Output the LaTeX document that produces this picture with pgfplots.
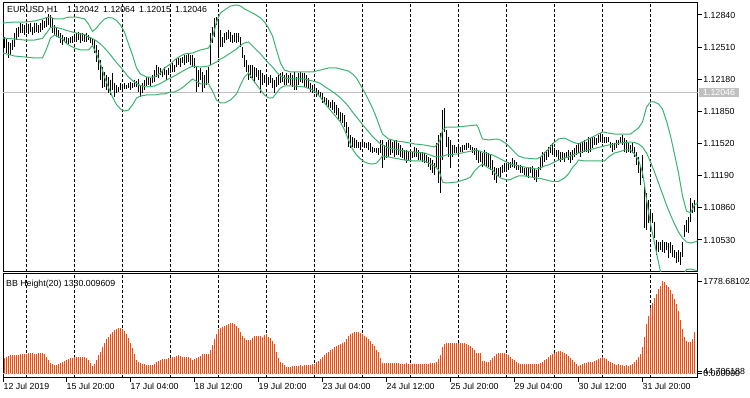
\documentclass[border=0pt]{standalone}
\usepackage{pgfplots}
\pgfplotsset{compat=1.18}
\usepackage{pgfplotstable}
\usepackage{fontspec}
\setmainfont{Liberation Sans}
\definecolor{bandgreen}{RGB}{60,179,113}
\definecolor{histred}{RGB}{255,69,0}
\definecolor{bidgray}{RGB}{192,192,192}
\newcommand{\lblfont}{\fontsize{8.8}{10}\selectfont}

\pgfplotstableread{
i h l
0 1.12614 1.12501
1 1.12604 1.12450
2 1.12563 1.12399
3 1.12553 1.12429
4 1.12583 1.12481
5 1.12655 1.12511
6 1.12707 1.12583
7 1.12717 1.12614
8 1.12758 1.12655
9 1.12748 1.12655
10 1.12737 1.12635
11 1.12758 1.12655
12 1.12748 1.12645
13 1.12758 1.12665
14 1.12717 1.12635
15 1.12758 1.12655
16 1.12758 1.12665
17 1.12737 1.12655
18 1.12758 1.12665
19 1.12789 1.12686
20 1.12778 1.12707
21 1.12819 1.12717
22 1.12850 1.12737
23 1.12840 1.12717
24 1.12809 1.12655
25 1.12737 1.12635
26 1.12707 1.12614
27 1.12686 1.12604
28 1.12655 1.12553
29 1.12635 1.12532
30 1.12614 1.12563
31 1.12614 1.12553
32 1.12604 1.12532
33 1.12614 1.12553
34 1.12624 1.12553
35 1.12635 1.12583
36 1.12655 1.12563
37 1.12665 1.12583
38 1.12655 1.12553
39 1.12655 1.12573
40 1.12635 1.12563
41 1.12655 1.12563
42 1.12635 1.12583
43 1.12614 1.12553
44 1.12604 1.12511
45 1.12583 1.12450
46 1.12532 1.12357
47 1.12481 1.12275
48 1.12378 1.12173
49 1.12306 1.12091
50 1.12255 1.12101
51 1.12224 1.12070
52 1.12203 1.12039
53 1.12173 1.12019
54 1.12245 1.12070
55 1.12142 1.11998
56 1.12121 1.12039
57 1.12101 1.12049
58 1.12142 1.12070
59 1.12121 1.12070
60 1.12142 1.12080
61 1.12121 1.12080
62 1.12142 1.12091
63 1.12152 1.12070
64 1.12142 1.12091
65 1.12173 1.12101
66 1.12162 1.12101
67 1.12183 1.12049
68 1.12121 1.11998
69 1.12142 1.12039
70 1.12173 1.12070
71 1.12203 1.12111
72 1.12203 1.12121
73 1.12193 1.12101
74 1.12224 1.12142
75 1.12275 1.12152
76 1.12327 1.12203
77 1.12306 1.12193
78 1.12296 1.12224
79 1.12275 1.12203
80 1.12306 1.12224
81 1.12275 1.12173
82 1.12296 1.12224
83 1.12306 1.12245
84 1.12347 1.12255
85 1.12327 1.12255
86 1.12399 1.12306
87 1.12409 1.12327
88 1.12399 1.12306
89 1.12409 1.12347
90 1.12429 1.12327
91 1.12429 1.12347
92 1.12450 1.12357
93 1.12429 1.12327
94 1.12429 1.12306
95 1.12399 1.12296
96 1.12306 1.12049
97 1.12275 1.12101
98 1.12296 1.12173
99 1.12255 1.12049
100 1.12224 1.12091
101 1.12275 1.12121
102 1.12306 1.12142
103 1.12655 1.12327
104 1.12717 1.12553
105 1.12809 1.12614
106 1.12819 1.12737
107 1.12789 1.12399
108 1.12686 1.12511
109 1.12614 1.12511
110 1.12655 1.12553
111 1.12665 1.12583
112 1.12686 1.12594
113 1.12665 1.12563
114 1.12635 1.12553
115 1.12655 1.12563
116 1.12655 1.12553
117 1.12655 1.12563
118 1.12614 1.12511
119 1.12511 1.12399
120 1.12429 1.12306
121 1.12378 1.12255
122 1.12327 1.12173
123 1.12327 1.12193
124 1.12327 1.12193
125 1.12306 1.12142
126 1.12296 1.12203
127 1.12275 1.12173
128 1.12275 1.12039
129 1.12245 1.12121
130 1.12224 1.12142
131 1.12203 1.12101
132 1.12203 1.12121
133 1.12224 1.12142
134 1.12193 1.12091
135 1.12173 1.12039
136 1.12203 1.12101
137 1.12224 1.12121
138 1.12245 1.12142
139 1.12255 1.12152
140 1.12224 1.12121
141 1.12245 1.12121
142 1.12224 1.12142
143 1.12245 1.12121
144 1.12224 1.12101
145 1.12255 1.12070
146 1.12203 1.12070
147 1.12245 1.12121
148 1.12255 1.12152
149 1.12245 1.12142
150 1.12245 1.12101
151 1.12224 1.12101
152 1.12193 1.12091
153 1.12142 1.12049
154 1.12121 1.12039
155 1.12101 1.12039
156 1.12091 1.11998
157 1.12070 1.12019
158 1.12049 1.11988
159 1.12039 1.11937
160 1.11998 1.11947
161 1.11988 1.11916
162 1.11967 1.11895
163 1.11947 1.11885
164 1.11967 1.11865
165 1.11947 1.11834
166 1.11916 1.11813
167 1.11885 1.11762
168 1.11844 1.11741
169 1.11834 1.11731
170 1.11813 1.11690
171 1.11741 1.11628
172 1.11690 1.11485
173 1.11608 1.11474
174 1.11587 1.11485
175 1.11577 1.11474
176 1.11557 1.11474
177 1.11536 1.11474
178 1.11536 1.11454
179 1.11557 1.11485
180 1.11536 1.11474
181 1.11526 1.11474
182 1.11536 1.11454
183 1.11526 1.11433
184 1.11485 1.11423
185 1.11474 1.11433
186 1.11474 1.11423
187 1.11474 1.11403
188 1.11557 1.11423
189 1.11557 1.11269
190 1.11505 1.11351
191 1.11536 1.11372
192 1.11557 1.11382
193 1.11557 1.11403
194 1.11536 1.11423
195 1.11557 1.11382
196 1.11557 1.11403
197 1.11526 1.11403
198 1.11505 1.11382
199 1.11474 1.11372
200 1.11454 1.11351
201 1.11454 1.11320
202 1.11433 1.11351
203 1.11454 1.11351
204 1.11433 1.11372
205 1.11485 1.11382
206 1.11474 1.11382
207 1.11454 1.11351
208 1.11433 1.11351
209 1.11433 1.11331
210 1.11423 1.11320
211 1.11403 1.11320
212 1.11382 1.11279
213 1.11372 1.11249
214 1.11351 1.11218
215 1.11320 1.11197
216 1.11526 1.11279
217 1.11608 1.11115
218 1.11628 1.11012
219 1.11865 1.11351
220 1.11885 1.11639
221 1.11659 1.11485
222 1.11587 1.11382
223 1.11557 1.11269
224 1.11505 1.11382
225 1.11505 1.11423
226 1.11485 1.11423
227 1.11485 1.11423
228 1.11485 1.11433
229 1.11505 1.11433
230 1.11505 1.11454
231 1.11526 1.11454
232 1.11526 1.11474
233 1.11505 1.11454
234 1.11485 1.11423
235 1.11474 1.11403
236 1.11474 1.11351
237 1.11454 1.11320
238 1.11433 1.11331
239 1.11423 1.11279
240 1.11454 1.11300
241 1.11433 1.11279
242 1.11423 1.11279
243 1.11403 1.11249
244 1.11351 1.11197
245 1.11279 1.11146
246 1.11269 1.11115
247 1.11269 1.11177
248 1.11279 1.11177
249 1.11300 1.11218
250 1.11320 1.11228
251 1.11320 1.11228
252 1.11331 1.11249
253 1.11331 1.11269
254 1.11372 1.11279
255 1.11351 1.11269
256 1.11331 1.11249
257 1.11300 1.11249
258 1.11300 1.11218
259 1.11279 1.11218
260 1.11269 1.11197
261 1.11269 1.11177
262 1.11279 1.11166
263 1.11279 1.11218
264 1.11290 1.11166
265 1.11269 1.11146
266 1.11249 1.11125
267 1.11279 1.11177
268 1.11382 1.11249
269 1.11433 1.11279
270 1.11433 1.11331
271 1.11454 1.11351
272 1.11485 1.11382
273 1.11505 1.11423
274 1.11526 1.11403
275 1.11474 1.11382
276 1.11454 1.11382
277 1.11454 1.11351
278 1.11433 1.11331
279 1.11433 1.11351
280 1.11423 1.11331
281 1.11433 1.11372
282 1.11454 1.11351
283 1.11433 1.11320
284 1.11454 1.11351
285 1.11474 1.11382
286 1.11505 1.11403
287 1.11526 1.11423
288 1.11526 1.11382
289 1.11536 1.11423
290 1.11557 1.11433
291 1.11536 1.11433
292 1.11587 1.11423
293 1.11577 1.11433
294 1.11587 1.11474
295 1.11587 1.11505
296 1.11577 1.11505
297 1.11608 1.11526
298 1.11628 1.11536
299 1.11608 1.11526
300 1.11587 1.11526
301 1.11587 1.11526
302 1.11587 1.11536
303 1.11536 1.11474
304 1.11526 1.11433
305 1.11526 1.11454
306 1.11557 1.11474
307 1.11557 1.11505
308 1.11587 1.11526
309 1.11608 1.11505
310 1.11577 1.11433
311 1.11557 1.11423
312 1.11526 1.11433
313 1.11505 1.11423
314 1.11526 1.11423
315 1.11485 1.11382
316 1.11433 1.11300
317 1.11382 1.11218
318 1.11279 1.11095
319 1.11403 1.11166
320 1.11074 1.10653
321 1.11012 1.10632
322 1.10941 1.10704
323 1.10817 1.10612
324 1.10807 1.10704
325 1.10715 1.10550
326 1.10530 1.10376
327 1.10509 1.10407
328 1.10509 1.10427
329 1.10530 1.10407
330 1.10509 1.10396
331 1.10509 1.10427
332 1.10499 1.10345
333 1.10509 1.10396
334 1.10478 1.10355
335 1.10427 1.10345
336 1.10407 1.10294
337 1.10427 1.10304
338 1.10407 1.10273
339 1.10509 1.10355
340 1.10684 1.10561
341 1.10735 1.10612
342 1.10766 1.10602
343 1.10961 1.10715
344 1.10910 1.10807
345 1.10941 1.10817
}\bars

\pgfplotstableread{
i v
0 309
1 328
2 348
3 361
4 361
5 361
6 361
7 361
8 374
9 374
10 374
11 386
12 399
13 399
14 399
15 386
16 386
17 399
18 399
19 406
20 386
21 328
22 264
23 213
24 181
25 168
26 168
27 181
28 200
29 219
30 238
31 264
32 284
33 296
34 309
35 322
36 328
37 328
38 328
39 328
40 322
41 296
42 264
43 200
44 148
45 181
46 264
47 361
48 425
49 521
50 599
51 669
52 714
53 759
54 811
55 837
56 862
57 875
58 875
59 862
60 824
61 759
62 682
63 586
64 489
65 374
66 264
67 219
68 200
69 194
70 181
71 168
72 168
73 168
74 168
75 187
76 219
77 245
78 264
79 277
80 284
81 284
82 296
83 309
84 322
85 328
86 348
87 361
88 341
89 328
90 328
91 328
92 322
93 296
94 258
95 277
96 303
97 322
98 348
99 374
100 374
101 374
102 374
103 457
104 554
105 669
106 766
107 862
108 888
109 907
110 927
111 939
112 965
113 978
114 978
115 965
116 920
117 875
118 811
119 734
120 682
121 650
122 644
123 644
124 695
125 721
126 721
127 727
128 727
129 714
130 746
131 759
132 714
133 682
134 631
135 566
136 412
137 296
138 232
139 200
140 168
141 136
142 136
143 136
144 148
145 155
146 155
147 155
148 161
149 155
150 161
151 161
152 168
153 168
154 181
155 194
156 226
157 251
158 284
159 316
160 361
161 399
162 425
163 451
164 483
165 509
166 528
167 547
168 566
169 592
170 618
171 669
172 734
173 772
174 785
175 798
176 811
177 811
178 785
179 772
180 734
181 708
182 669
183 624
184 579
185 534
186 457
187 412
188 296
189 213
190 213
191 213
192 206
193 200
194 200
195 206
196 206
197 200
198 194
199 194
200 194
201 200
202 187
203 187
204 194
205 187
206 187
207 187
208 187
209 187
210 187
211 194
212 194
213 200
214 206
215 213
216 232
217 277
218 361
219 521
220 566
221 592
222 592
223 592
224 592
225 592
226 592
227 592
228 592
229 592
230 592
231 579
232 560
233 541
234 502
235 457
236 406
237 406
238 406
239 245
240 238
241 232
242 232
243 258
244 296
245 348
246 380
247 393
248 399
249 399
250 393
251 374
252 354
253 322
254 284
255 258
256 232
257 206
258 194
259 187
260 187
261 187
262 187
263 187
264 187
265 187
266 187
267 194
268 213
269 232
270 258
271 284
272 316
273 354
274 380
275 406
276 425
277 438
278 438
279 425
280 406
281 380
282 348
283 309
284 258
285 219
286 181
287 148
288 168
289 194
290 206
291 206
292 226
293 232
294 232
295 245
296 264
297 290
298 309
299 322
300 309
301 290
302 245
303 219
304 200
305 187
306 174
307 187
308 174
309 168
310 155
311 161
312 155
313 168
314 194
315 232
316 271
317 328
318 374
319 521
320 714
321 952
322 1119
323 1274
324 1357
325 1454
326 1544
327 1634
328 1698
329 1778.68
330 1760
331 1711
332 1672
333 1608
334 1531
335 1441
336 1338
337 1209
338 1036
339 862
340 714
341 631
342 605
343 618
344 669
345 811
}\hist

\begin{document}
\begin{tikzpicture}
\path[use as bounding box, fill=white] (0,0) rectangle (750pt,398pt);

% ---------- main price panel ----------
\begin{axis}[
  at={(3pt,126pt)}, anchor=south west, scale only axis,
  width=694.7pt, height=269pt,
  xmin=-0.75, xmax=346.6, ymin=1.102014, ymax=1.129632,
  axis line style={black, line width=1pt},
  xtick=\empty,
  extra x ticks={11,35,...,323},
  extra x tick labels={},
  extra x tick style={grid=major, major tick length=0pt},
  major grid style={black, line width=1pt, dash pattern=on 3pt off 2pt},
  ytick={1.1053,1.1086,1.1119,1.1152,1.1185,1.1218,1.1251,1.1284},
  yticklabels={1.10530,1.10860,1.11190,1.11520,1.11850,1.12180,1.12510,1.12840},
  ytick pos=right, tick align=outside, major tick length=4pt,
  tick style={black, line width=1pt},
  yticklabel style={font=\lblfont, anchor=west, inner sep=0pt, xshift=1.5pt},
]
\addplot[bidgray, line width=1pt, forget plot] coordinates {(-0.75,1.12046) (346.6,1.12046)};

\addplot[only marks, mark=none, mark options={draw=none, fill=none}, mark size=0pt, forget plot,
  error bars/.cd, y dir=minus, y explicit,
  error bar style={draw=black, line width=1pt}, error mark=none]
  table[x=i, y=h, y error expr=\thisrow{h}-\thisrow{l}] {\bars};

% upper band
\addplot[bandgreen, line width=1pt, forget plot] coordinates {
(-0.75,1.12758) (5,1.12768) (10,1.12768) (15,1.12778) (19,1.12799) (21,1.12814) (23,1.12819)
(25,1.12799) (29,1.12799) (31,1.12814) (33,1.12819) (36,1.12819) (38,1.12809) (40,1.12799)
(42,1.12748) (44,1.12671) (46,1.12707) (48,1.12758) (50,1.12799) (52,1.12814) (54,1.12809)
(56,1.12784) (58,1.12737) (60,1.12665) (62,1.12542) (64,1.12429) (66,1.12296) (68,1.12234)
(71,1.12203) (75,1.12203) (78,1.12244) (80,1.12296) (83,1.12337) (85,1.12378) (88,1.12419)
(90,1.12440) (94,1.12450) (98,1.12481) (102,1.12501) (103,1.12542) (104,1.12614) (105,1.12686)
(106,1.12768) (107,1.12819) (108,1.12861) (110,1.12891) (113,1.12932) (116,1.12943) (118,1.12932)
(120,1.12902) (122,1.12881) (125,1.12850) (128,1.12809) (130,1.12768) (132,1.12707) (134,1.12624)
(136,1.12481) (138,1.12347) (140,1.12275) (143,1.12255) (150,1.12255) (154,1.12255) (158,1.12275)
(162,1.12296) (166,1.12296) (170,1.12275) (172,1.12265) (174,1.12234) (176,1.12193) (178,1.12121)
(180,1.12049) (182,1.11967) (184,1.11885) (186,1.11783) (188,1.11670) (189,1.11618) (192,1.11567)
(196,1.11546) (200,1.11536) (205,1.11516) (210,1.11505) (215,1.11485) (217,1.11526) (218,1.11567)
(219,1.11659) (221,1.11690) (226,1.11690) (231,1.11700) (236,1.11711) (237,1.11680) (238,1.11618)
(239,1.11567) (242,1.11557) (246,1.11567) (248,1.11557) (251,1.11516) (253,1.11475) (255,1.11433)
(257,1.11392) (260,1.11372) (266,1.11362) (268,1.11382) (270,1.11423) (272,1.11464) (274,1.11516)
(277,1.11567) (280,1.11577) (282,1.11557) (284,1.11536) (287,1.11516) (290,1.11546) (293,1.11577)
(296,1.11608) (299,1.11639) (302,1.11628) (305,1.11618) (310,1.11618) (313,1.11618) (315,1.11649)
(317,1.11680) (319,1.11741) (320,1.11813) (321,1.11895) (323,1.11947) (325,1.11947) (327,1.11926)
(329,1.11875) (331,1.11752) (333,1.11598) (335,1.11413) (337,1.11218) (339,1.10982) (341,1.10828)
(343,1.10807) (345,1.10889) (346.6,1.10910)};

% middle band
\addplot[bandgreen, line width=1pt, forget plot] coordinates {
(-0.75,1.12604) (5,1.12594) (10,1.12583) (15,1.12583) (19,1.12599) (21,1.12655) (23,1.12712)
(25,1.12717) (29,1.12696) (31,1.12681) (33,1.12671) (35,1.12660) (38,1.12645) (40,1.12640)
(42,1.12614) (44,1.12599) (46,1.12573) (48,1.12542) (50,1.12501) (52,1.12455) (54,1.12404)
(56,1.12352) (58,1.12306) (60,1.12255) (62,1.12203) (64,1.12168) (66,1.12137) (68,1.12116)
(71,1.12101) (75,1.12111) (78,1.12137) (80,1.12162) (83,1.12193) (85,1.12214) (88,1.12250)
(90,1.12275) (94,1.12316) (98,1.12306) (102,1.12316) (104,1.12337) (106,1.12358) (108,1.12388)
(110,1.12409) (113,1.12450) (116,1.12491) (118,1.12527) (120,1.12553) (122,1.12563) (125,1.12501)
(128,1.12440) (130,1.12393) (132,1.12347) (134,1.12306) (136,1.12255) (138,1.12214) (140,1.12193)
(145,1.12183) (150,1.12183) (154,1.12162) (156,1.12152) (158,1.12137) (160,1.12106) (162,1.12080)
(165,1.12039) (168,1.11988) (170,1.11947) (172,1.11901) (174,1.11844) (176,1.11793) (178,1.11741)
(180,1.11690) (184,1.11593) (188,1.11516) (192,1.11475) (200,1.11444) (205,1.11433) (210,1.11423)
(215,1.11387) (218,1.11382) (221,1.11403) (226,1.11413) (231,1.11433) (236,1.11454) (239,1.11433)
(242,1.11413) (244,1.11403) (246,1.11382) (248,1.11362) (251,1.11331) (253,1.11310) (255,1.11300)
(257,1.11290) (260,1.11279) (266,1.11259) (268,1.11269) (270,1.11290) (272,1.11300) (274,1.11321)
(277,1.11351) (280,1.11372) (282,1.11382) (284,1.11403) (287,1.11423) (290,1.11444) (293,1.11459)
(296,1.11475) (298,1.11485) (300,1.11495) (302,1.11505) (305,1.11516) (308,1.11526) (313,1.11536)
(315,1.11531) (317,1.11516) (319,1.11485) (320,1.11454) (321,1.11423) (323,1.11331) (325,1.11228)
(327,1.11115) (329,1.11002) (331,1.10889) (333,1.10787) (335,1.10694) (337,1.10612) (339,1.10550)
(341,1.10509) (343,1.10499) (345,1.10509) (346.6,1.10520)};

% lower band
\addplot[bandgreen, line width=1pt, forget plot] coordinates {
(-0.75,1.12450) (5,1.12419) (10,1.12409) (15,1.12399) (19,1.12399) (21,1.12491) (23,1.12604)
(25,1.12635) (29,1.12594) (31,1.12547) (33,1.12522) (35,1.12501) (38,1.12481) (40,1.12481)
(42,1.12481) (44,1.12527) (46,1.12440) (48,1.12337) (50,1.12203) (52,1.12096) (54,1.11998)
(56,1.11921) (58,1.11875) (60,1.11854) (62,1.11865) (64,1.11916) (66,1.11988) (68,1.12008)
(71,1.12019) (75,1.12019) (78,1.12029) (80,1.12029) (83,1.12049) (85,1.12049) (88,1.12080)
(90,1.12111) (94,1.12183) (98,1.12132) (102,1.12132) (104,1.12060) (106,1.11967) (108,1.11937)
(110,1.11937) (113,1.11967) (116,1.12029) (118,1.12121) (120,1.12203) (122,1.12245) (125,1.12152)
(128,1.12070) (130,1.12019) (132,1.11988) (134,1.11988) (136,1.12039) (138,1.12091) (140,1.12111)
(145,1.12111) (150,1.12101) (154,1.12070) (156,1.12039) (158,1.11993) (160,1.11937) (162,1.11885)
(165,1.11813) (168,1.11741) (170,1.11659) (172,1.11557) (174,1.11464) (176,1.11403) (178,1.11362)
(180,1.11331) (182,1.11315) (184,1.11310) (186,1.11320) (188,1.11367) (189,1.11392) (192,1.11382)
(200,1.11351) (205,1.11341) (210,1.11341) (215,1.11290) (217,1.11249) (218,1.11197) (219,1.11125)
(221,1.11115) (226,1.11125) (231,1.11156) (233,1.11177) (235,1.11238) (237,1.11279) (239,1.11310)
(242,1.11269) (244,1.11249) (246,1.11197) (248,1.11167) (251,1.11146) (253,1.11151) (255,1.11172)
(257,1.11187) (260,1.11187) (266,1.11167) (268,1.11161) (272,1.11141) (274,1.11131) (277,1.11131)
(280,1.11167) (282,1.11208) (284,1.11274) (286,1.11320) (287,1.11351) (290,1.11341) (296,1.11341)
(300,1.11341) (302,1.11382) (305,1.11423) (308,1.11439) (310,1.11454) (313,1.11454) (315,1.11413)
(317,1.11351) (319,1.11223) (320,1.11095) (321,1.10946) (323,1.10694) (325,1.10499) (327,1.10299)
(329,1.10114) (331,1.10037) (335,1.09976) (337,1.10006) (339,1.10160) (341,1.10227) (343,1.10232)
(345,1.10222) (346.6,1.10212)};
\end{axis}

% ---------- indicator panel ----------
\begin{axis}[
  at={(3pt,20.3pt)}, anchor=south west, scale only axis,
  width=694.7pt, height=103.7pt,
  xmin=-0.75, xmax=346.6, ymin=-77, ymax=1923,
  axis line style={black, line width=1pt},
  xtick={-0.5,31,63,95,127,159,191,223,255,287,319},
  xticklabels={12 Jul 2019,15 Jul 20:00,17 Jul 04:00,18 Jul 12:00,19 Jul 20:00,23 Jul 04:00,24 Jul 12:00,25 Jul 20:00,29 Jul 04:00,30 Jul 12:00,31 Jul 20:00},
  xtick pos=bottom,
  extra x ticks={11,35,...,323},
  extra x tick labels={},
  extra x tick style={grid=major, major tick length=0pt},
  major grid style={black, line width=1pt, dash pattern=on 3pt off 2pt},
  ytick={0,44.706188,1778.68102},
  yticklabels={0.000000,44.706188,1778.68102},
  ytick pos=right, tick align=outside, major tick length=4pt,
  tick style={black, line width=1pt},
  yticklabel style={font=\lblfont, anchor=west, inner sep=0pt, xshift=1.5pt},
  xticklabel style={font=\lblfont, anchor=north west, inner sep=0pt, yshift=-1pt},
]
\addplot[ycomb, histred, line width=1pt, mark=none, forget plot] table[x=i, y=v] {\hist};
\addplot[bidgray, line width=1pt, dash pattern=on 3pt off 3pt, forget plot] coordinates {(-0.75,0) (346.6,0)};
\end{axis}

% ---------- texts ----------
\node[anchor=base west, font=\lblfont, inner sep=0pt] at (7pt,385.3pt) {EURUSD,H1};
\node[anchor=base west, font=\lblfont, inner sep=0pt] at (67pt,385.3pt) {1.12042};
\node[anchor=base west, font=\lblfont, inner sep=0pt] at (103pt,385.3pt) {1.12064};
\node[anchor=base west, font=\lblfont, inner sep=0pt] at (139pt,385.3pt) {1.12015};
\node[anchor=base west, font=\lblfont, inner sep=0pt] at (175pt,385.3pt) {1.12046};
\node[anchor=base west, font=\lblfont, inner sep=0pt] at (6pt,111.3pt) {BB Height(20) 1330.009609};
\node[anchor=west, fill=bidgray, text=white, font=\lblfont, inner xsep=4pt, inner ysep=1.5pt] at (699pt,305.7pt) {1.12046};
\end{tikzpicture}
\end{document}
